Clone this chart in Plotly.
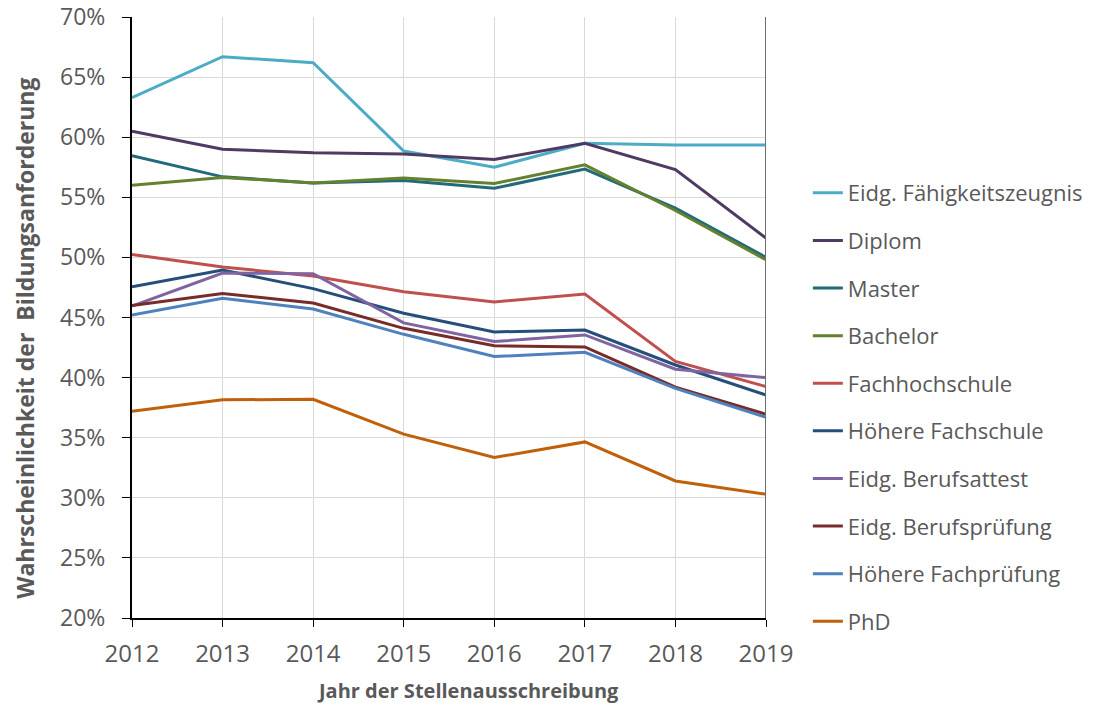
import plotly.graph_objects as go

years = [2012, 2013, 2014, 2015, 2016, 2017, 2018, 2019]

series_names = [
    "Eidg. Fähigkeitszeugnis", "Diplom", "Master", "Bachelor", "Fachhochschule",
    "Höhere Fachschule", "Eidg. Berufsattest", "Eidg. Berufsprüfung",
    "Höhere Fachprüfung", "PhD",
]

eidg_faehigkeitszeugnis = [63.3, 66.7, 66.2, 58.85, 57.5, 59.5, 59.35, 59.35]
diplom = [60.5, 59.0, 58.7, 58.6, 58.15, 59.5, 57.3, 51.6]
master = [58.45, 56.7, 56.2, 56.4, 55.75, 57.35, 54.1, 50.0]
bachelor = [56.0, 56.65, 56.2, 56.6, 56.15, 57.7, 53.9, 49.8]
fachhochschule = [50.25, 49.2, 48.45, 47.15, 46.3, 46.95, 41.35, 39.25]
hoehere_fachschule = [47.55, 48.95, 47.4, 45.35, 43.8, 43.95, 41.05, 38.55]
eidg_berufsattest = [45.95, 48.7, 48.65, 44.55, 43.0, 43.55, 40.7, 40.0]
eidg_berufspruefung = [46.0, 47.0, 46.2, 44.1, 42.65, 42.55, 39.2, 36.95]
hoehere_fachpruefung = [45.2, 46.6, 45.7, 43.6, 41.75, 42.1, 39.1, 36.7]
phd = [37.2, 38.15, 38.2, 35.3, 33.35, 34.65, 31.4, 30.3]

series_values = [
    eidg_faehigkeitszeugnis, diplom, master, bachelor, fachhochschule,
    hoehere_fachschule, eidg_berufsattest, eidg_berufspruefung,
    hoehere_fachpruefung, phd,
]

colors = [
    "#4BACC6", "#4E3A63", "#22697A", "#63812F", "#C0504D",
    "#254E78", "#8064A2", "#772C2A", "#4F81BD", "#C0600A",
]

y_ticks = [20, 25, 30, 35, 40, 45, 50, 55, 60, 65, 70]
y_tick_labels = [f"{v}%" for v in y_ticks]

x_title = "Jahr der Stellenausschreibung"
y_title = "Wahrscheinlichkeit der&nbsp; Bildungsanforderung"

FONT = "Open Sans"
GREY = "#595959"

fig = go.Figure()
for i, (name, vals, col) in enumerate(zip(series_names, series_values, colors)):
    fig.add_trace(go.Scatter(
        x=years, y=vals, mode="lines", name=name,
        line=dict(color=col, width=3),
        legendgroup=f"g{i}",
    ))

fig.update_layout(
    width=1108, height=706,
    margin=dict(l=132, r=342, t=17, b=88),
    paper_bgcolor="white", plot_bgcolor="white",
    font=dict(family=FONT, color=GREY, size=20),
    showlegend=True,
    legend=dict(
        x=1.066, xanchor="left", y=0.742, yanchor="top",
        font=dict(size=22, color=GREY, family=FONT),
        traceorder="grouped", tracegroupgap=16,
        itemwidth=30, bgcolor="rgba(0,0,0,0)",
    ),
    xaxis=dict(
        range=[2012, 2019], tickmode="array", tickvals=years,
        ticktext=[str(y) for y in years],
        showgrid=True, gridcolor="#D9D9D9", gridwidth=1,
        showline=True, linecolor="black", linewidth=2,
        ticks="outside", ticklen=7, tickcolor="black",
        ticklabelstandoff=6, ticklabeloverflow="allow",
        tickfont=dict(size=24, color=GREY, family=FONT),
        zeroline=False, automargin=False,
    ),
    yaxis=dict(
        range=[20, 70], tickmode="array", tickvals=y_ticks, ticktext=y_tick_labels,
        showgrid=True, gridcolor="#D9D9D9", gridwidth=1,
        showline=True, linecolor="black", linewidth=2,
        ticks="outside", ticklen=8, tickcolor="black",
        ticklabelstandoff=12, ticklabeloverflow="allow",
        tickfont=dict(size=23, color=GREY, family=FONT),
        zeroline=False, automargin=False,
    ),
    annotations=[
        dict(text=f"<b>{x_title}</b>", xref="paper", yref="paper",
             x=0.53, y=-0.12, xanchor="center", yanchor="middle",
             showarrow=False, font=dict(size=20, color=GREY, family=FONT)),
        dict(text=f"<b>{y_title}</b>", xref="paper", yref="paper",
             x=-0.169, y=0.466, xanchor="center", yanchor="middle",
             textangle=-90, showarrow=False,
             font=dict(size=23, color=GREY, family=FONT)),
    ],
)

fig.add_shape(type="line", xref="x", yref="paper", x0=2019, x1=2019, y0=0, y1=1,
              line=dict(color="#6E6E6E", width=2), layer="above")

fig.write_html("out.html", config={"displayModeBar": False},
               post_script="document.body.style.margin='0';")
